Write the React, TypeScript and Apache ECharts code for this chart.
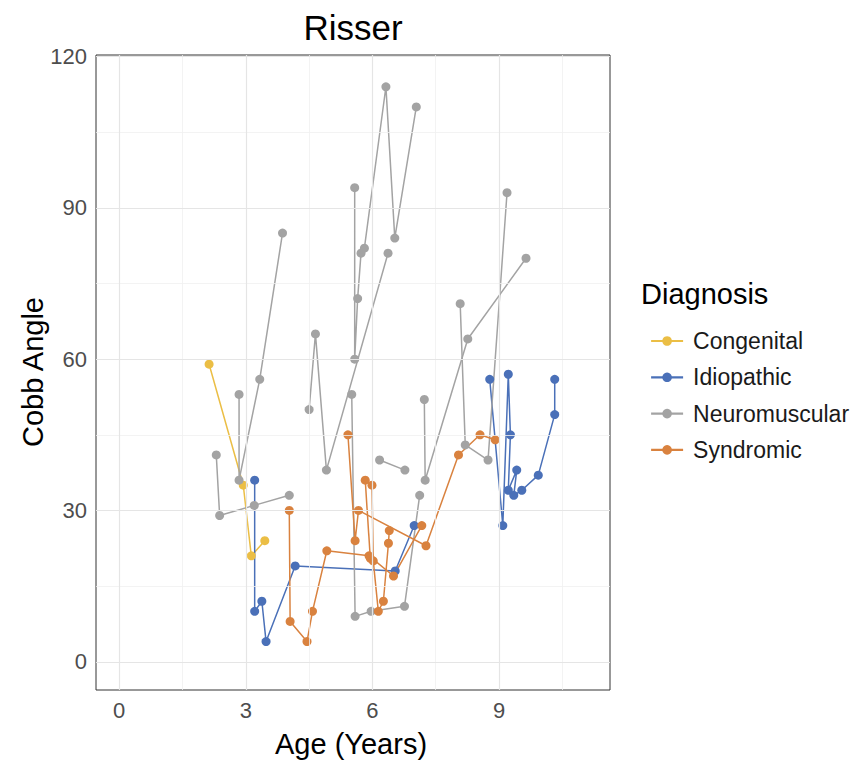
import React, { useEffect, useRef } from "react";
import * as echarts from "echarts";

// ---- data (Age in years, Cobb angle in degrees), one array per patient ----
const congenitalTracks: number[][][] = [
  [[2.13, 59], [2.94, 35], [3.13, 21], [3.45, 24]],
];

const idiopathicTracks: number[][][] = [
  [[3.21, 36], [3.21, 10], [3.38, 12], [3.48, 4], [4.17, 19], [6.54, 18], [6.99, 27]],
  [[8.78, 56], [9.09, 27], [9.22, 57], [9.27, 45], [9.22, 34], [9.42, 38], [9.35, 33], [9.54, 34], [9.93, 37], [10.32, 49], [10.32, 56]],
];

const neuromuscularTracks: number[][][] = [
  [[2.3, 41], [2.38, 29], [3.2, 31], [4.03, 33]],
  [[2.84, 53], [2.84, 36], [3.33, 56], [3.87, 85]],
  [[4.5, 50], [4.65, 65], [4.91, 38], [6.37, 81]],
  [[5.51, 53], [5.59, 9], [5.97, 10], [6.76, 11], [7.12, 33]],
  [[5.58, 94], [5.58, 60], [5.65, 72], [5.73, 81], [5.81, 82], [6.32, 114], [6.53, 84], [7.04, 110]],
  [[6.17, 40], [6.77, 38]],
  [[7.23, 52], [7.25, 36], [8.26, 64], [9.64, 80]],
  [[8.08, 71], [8.2, 43], [8.74, 40], [9.19, 93]],
];

const syndromicTracks: number[][][] = [
  [[4.03, 30], [4.05, 8], [4.45, 4], [4.58, 10], [4.92, 22], [5.92, 21], [6.5, 17], [7.17, 27]],
  [[5.42, 45], [5.59, 24], [5.67, 30], [7.27, 23], [8.04, 41], [8.55, 45], [8.91, 44]],
  [[5.83, 36], [5.95, 20.5]],
  [[5.99, 35], [6.02, 20], [6.14, 10], [6.26, 12], [6.38, 23.5], [6.4, 26]],
];

const diagnoses = ["Congenital", "Idiopathic", "Neuromuscular", "Syndromic"];
const colors = ["#EBBE45", "#4A70B8", "#A3A3A3", "#D9823F"];
const tracksByDiagnosis = [congenitalTracks, idiopathicTracks, neuromuscularTracks, syndromicTracks];

const xTicks = [0, 3, 6, 9];
const xMinor = [1.5, 4.5, 7.5, 10.5];
const yTicks = [0, 30, 60, 90, 120];
const yMinor = [15, 45, 75, 105];

const FONT = "'Liberation Sans', Arial, Helvetica, sans-serif";

export default function App() {
  const ref = useRef<HTMLDivElement>(null);

  useEffect(() => {
    document.body.style.margin = "0";
    const chart = echarts.init(ref.current!, undefined, { renderer: "svg" });

    const gridLines: any[] = [];
    xMinor.forEach((v) => gridLines.push({ xAxis: v, lineStyle: { color: "#F0F0F0", width: 0.8, type: "solid" } }));
    yMinor.forEach((v) => gridLines.push({ yAxis: v, lineStyle: { color: "#F0F0F0", width: 0.8, type: "solid" } }));
    xTicks.forEach((v) => gridLines.push({ xAxis: v, lineStyle: { color: "#E5E5E5", width: 1.2, type: "solid" } }));
    yTicks.forEach((v) => gridLines.push({ yAxis: v, lineStyle: { color: "#E5E5E5", width: 1.2, type: "solid" } }));

    const series: any[] = [
      {
        type: "line",
        name: "__grid",
        data: [],
        silent: true,
        z: 0,
        markLine: {
          silent: true,
          symbol: ["none", "none"],
          label: { show: false },
          data: gridLines,
          animation: false,
        },
      },
    ];

    tracksByDiagnosis.forEach((tracks, i) => {
      tracks.forEach((track) => {
        series.push({
          type: "line",
          name: diagnoses[i],
          data: track,
          z: 3,
          symbol: "circle",
          symbolSize: 9,
          showAllSymbol: true,
          color: colors[i],
          itemStyle: { color: colors[i] },
          lineStyle: { color: colors[i], width: 1.5 },
          emphasis: { disabled: true },
        });
      });
    });

    chart.setOption({
      animation: false,
      backgroundColor: "#FFFFFF",
      grid: {
        left: 96,
        right: 247,
        top: 55,
        bottom: 72,
        show: true,
        borderColor: "#333333",
        borderWidth: 1,
        backgroundColor: "transparent",
      },
      xAxis: {
        type: "value",
        min: -0.55,
        max: 11.63,
        splitLine: { show: false },
        axisLine: { show: false },
        axisTick: { show: true, customValues: xTicks, length: 5, lineStyle: { color: "#333333" } },
        axisLabel: {
          customValues: xTicks,
          margin: 9,
          color: "#4D4D4D",
          fontSize: 22,
          fontFamily: FONT,
        },
      },
      yAxis: {
        type: "value",
        min: -5.6,
        max: 120.3,
        splitLine: { show: false },
        axisLine: { show: false },
        axisTick: { show: true, customValues: yTicks, length: 5, lineStyle: { color: "#333333" } },
        axisLabel: {
          customValues: yTicks,
          margin: 9,
          color: "#4D4D4D",
          fontSize: 22,
          fontFamily: FONT,
        },
      },
      legend: {
        data: diagnoses,
        orient: "vertical",
        left: 645,
        top: 324,
        itemWidth: 32,
        itemHeight: 12,
        itemGap: 12.3,
        lineStyle: { width: 2.2 },
        textStyle: { fontSize: 23, lineHeight: 24, fontFamily: FONT, color: "#1A1A1A", padding: [0, 0, 0, 5] },
        selectedMode: false,
      },
      graphic: [
        {
          type: "text",
          x: 353,
          y: 27,
          style: { text: "Risser", align: "center", verticalAlign: "middle", font: `35px ${FONT}`, fill: "#000" },
        },
        {
          type: "text",
          x: 351,
          y: 744,
          style: { text: "Age (Years)", align: "center", verticalAlign: "middle", font: `29px ${FONT}`, fill: "#000" },
        },
        {
          type: "text",
          x: 33,
          y: 372,
          rotation: Math.PI / 2,
          style: { text: "Cobb Angle", align: "center", verticalAlign: "middle", font: `29px ${FONT}`, fill: "#000" },
        },
        {
          type: "text",
          x: 641,
          y: 294,
          style: { text: "Diagnosis", align: "left", verticalAlign: "middle", font: `29px ${FONT}`, fill: "#000" },
        },
      ],
      series,
    });

    return () => chart.dispose();
  }, []);

  return <div ref={ref} style={{ width: 857, height: 762 }} />;
}
